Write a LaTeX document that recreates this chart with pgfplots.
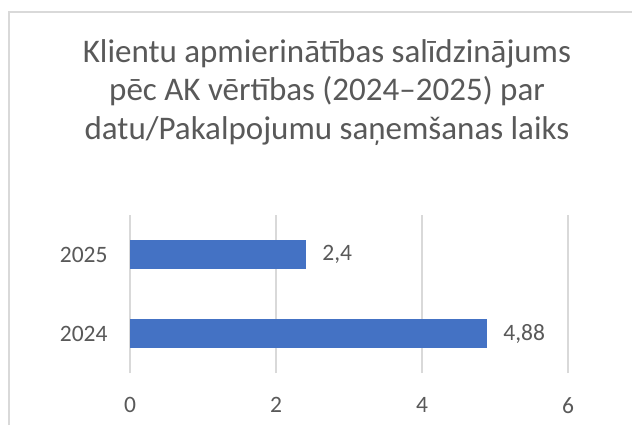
\documentclass[border=0pt]{standalone}
\usepackage{pgfplots}
\pgfplotsset{compat=1.18}
\usepackage{fontspec}
\setmainfont{Carlito}
\definecolor{barblue}{HTML}{4472C4}
\definecolor{txtgray}{HTML}{595959}
\definecolor{gridgray}{HTML}{D9D9D9}
\begin{document}
\begin{tikzpicture}[x=1bp,y=1bp]
\useasboundingbox (0,0) rectangle (632,425);
\fill[white] (0,0) rectangle (632,425);
\draw[gridgray, line width=1.2bp] (9,0) -- (9,413) -- (632,413);
\node[anchor=base, text=txtgray, inner sep=0pt, font=\fontsize{33bp}{39bp}\selectfont] at (327,363) {Klientu apmierinātības salīdzinājums};
\node[anchor=base, text=txtgray, inner sep=0pt, font=\fontsize{33bp}{39bp}\selectfont] at (327,324.3) {pēc AK vērtības (2024–2025) par};
\node[anchor=base, text=txtgray, inner sep=0pt, font=\fontsize{33bp}{39bp}\selectfont] at (327,285.5) {datu/Pakalpojumu saņemšanas laiks};
\begin{axis}[
  at={(130bp,52bp)}, anchor=south west,
  scale only axis, width=438bp, height=158bp,
  xbar, bar width=28bp,
  xmin=0, xmax=6, ymin=-0.5, ymax=1.5,
  xtick={0,2,4,6}, ytick={0,1}, yticklabels={2024,2025},
  axis line style={draw=none},
  xmajorgrids, major grid style={gridgray, line width=1.3bp},
  major tick length=0pt,
  /pgf/number format/assume math mode=true,
  tick label style={text=txtgray, font=\fontsize{23.5bp}{27bp}\selectfont},
  xticklabel style={yshift=-21bp},
  yticklabel style={xshift=-19bp},
  nodes near coords,
  nodes near coords align={horizontal},
  every node near coord/.append style={text=txtgray, font=\fontsize{23.5bp}{27bp}\selectfont, anchor=west, inner sep=0pt, xshift=17bp,
    /pgf/number format/use comma, /pgf/number format/assume math mode=true},
]
\addplot[fill=barblue, draw=barblue] coordinates {(4.88,0) (2.4,1)};
\end{axis}
\end{tikzpicture}
\end{document}
